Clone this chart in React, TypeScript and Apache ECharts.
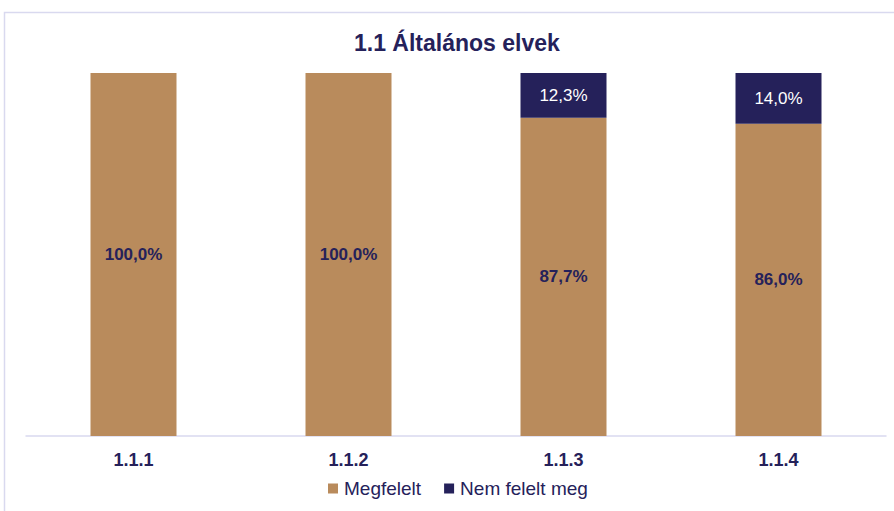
import React, { useEffect, useRef } from "react";
import * as echarts from "echarts";

const categories = ["1.1.1", "1.1.2", "1.1.3", "1.1.4"];
const megfelelt = [100.0, 100.0, 87.7, 86.0];
const nemFelelt = [0, 0, 12.3, 14.0];
const seriesNames = ["Megfelelt", "Nem felelt meg"];
const title = "1.1 Általános elvek";

const TAN = "#B98B5C";
const NAVY = "#25215A";
const FONT = "'Liberation Sans', Arial, sans-serif";

const fmt = (v: number) => v.toFixed(1).replace(".", ",") + "%";

export default function App() {
  const ref = useRef<HTMLDivElement>(null);
  useEffect(() => {
    if (!ref.current) return;
    const chart = echarts.init(ref.current, undefined, { renderer: "svg" });
    chart.setOption({
      animation: false,
      backgroundColor: "#ffffff",
      title: {
        text: title,
        left: 349,
        top: 26,
        textStyle: { fontFamily: FONT, fontSize: 23, fontWeight: "bold", color: NAVY },
      },
      graphic: [
        {
          type: "rect",
          shape: { x: 4.5, y: 12.5, width: 920, height: 540 },
          style: { fill: "none", stroke: "#D9D9EF", lineWidth: 1.5 },
          silent: true,
          z: -1,
        },
      ],
      legend: {
        bottom: 8,
        left: 323,
        itemWidth: 10,
        itemHeight: 10,
        itemGap: 23,
        icon: "rect",
        textStyle: { fontFamily: FONT, fontSize: 19, color: NAVY, padding: [0, 0, 0, 1] },
        data: seriesNames,
      },
      grid: { left: 26, right: 8, top: 73, bottom: 75, containLabel: false },
      xAxis: {
        type: "category",
        data: categories,
        axisLine: { show: true, lineStyle: { color: "#D9D9EF", width: 1.5 } },
        axisTick: { show: false },
        axisLabel: {
          fontFamily: FONT,
          fontSize: 18,
          fontWeight: "bold",
          color: NAVY,
          margin: 15,
        },
      },
      yAxis: {
        type: "value",
        min: 0,
        max: 100,
        show: false,
        splitLine: { show: false },
      },
      series: [
        {
          name: seriesNames[0],
          type: "bar",
          stack: "total",
          barWidth: "40%",
          data: megfelelt,
          itemStyle: { color: TAN },
          label: {
            show: true,
            position: "inside",
            formatter: (p: any) => (p.value > 0 ? fmt(p.value) : ""),
            fontFamily: FONT,
            fontSize: 17,
            fontWeight: "bold",
            color: NAVY,
          },
        },
        {
          name: seriesNames[1],
          type: "bar",
          stack: "total",
          barWidth: "40%",
          data: nemFelelt,
          itemStyle: { color: NAVY },
          label: {
            show: true,
            position: "inside",
            formatter: (p: any) => (p.value > 0 ? fmt(p.value) : ""),
            fontFamily: FONT,
            fontSize: 17,
            color: "#ffffff",
          },
        },
      ],
    });
    return () => chart.dispose();
  }, []);
  return (
    <div
      ref={ref}
      style={{ position: "absolute", left: 0, top: 0, width: 894, height: 511 }}
    />
  );
}
